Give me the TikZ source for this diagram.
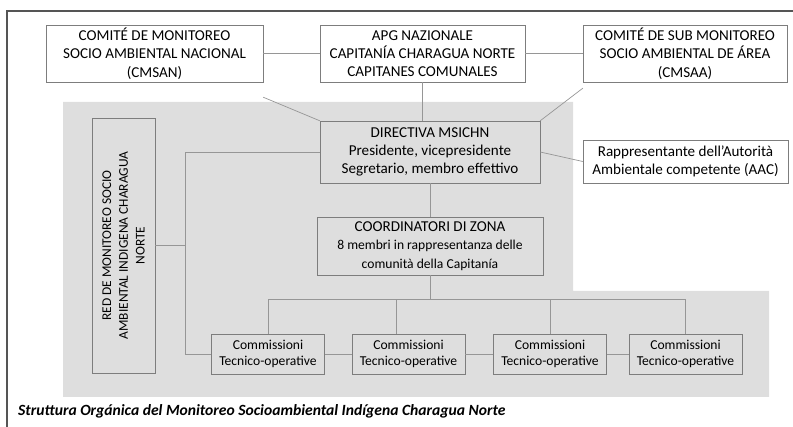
\documentclass[tikz,border=0pt]{standalone}
\usepackage{fontspec}
\setmainfont{Carlito}
\usetikzlibrary{positioning,calc}
\definecolor{PanelGray}{RGB}{222,222,222}
\definecolor{EdgeGray}{RGB}{125,125,125}
\definecolor{LinkGray}{RGB}{150,150,150}
\definecolor{FrameGray}{RGB}{85,85,85}
\newcommand{\smalltxt}{\fontsize{13.6}{16.7}\selectfont}

\begin{document}
\begin{tikzpicture}[x=1pt,y=-1pt,
  box/.style={draw=EdgeGray,fill=white,align=center,inner sep=2pt,
              font=\fontsize{15.1}{18.3}\selectfont},
  inbox/.style={box,fill=PanelGray},
  combox/.style={inbox,minimum width=113pt,minimum height=40pt,
                 font=\fontsize{13.6}{15.7}\selectfont},
  link/.style={draw=LinkGray,line width=0.7pt}]
  \useasboundingbox (0,0) rectangle (793,427);
  \fill[PanelGray] (63,102) -| (573,291) -| (769,397) -| cycle;
  \draw[FrameGray,line width=1.2pt] (7,427) |- (793,11);
  \node[box,minimum width=217pt,minimum height=57pt] (cmsan) at (154.5,53.5)
    {COMITÉ DE MONITOREO\\SOCIO AMBIENTAL NACIONAL\\(CMSAN)};
  \node[box,minimum width=205pt,minimum height=57pt] (apg) at (422.5,53.5)
    {APG NAZIONALE\\CAPITANÍA CHARAGUA NORTE\\CAPITANES COMUNALES};
  \node[box,minimum width=204pt,minimum height=57pt] (cmsaa) at (685,53.5)
    {COMITÉ DE SUB MONITOREO\\SOCIO AMBIENTAL DE ÁREA\\(CMSAA)};
  \node[inbox,minimum width=220pt,minimum height=62pt] (directiva) at (430,152)
    {DIRECTIVA MSICHN\\Presidente, vicepresidente\\Segretario, membro effettivo};
  \node[box,minimum width=205pt,minimum height=43pt] (aac) at (685.5,161.5)
    {Rappresentante dell’Autorità\\Ambientale competente (AAC)};
  \node[inbox,minimum width=226pt,minimum height=58pt] (coord) at (430,246)
    {COORDINATORI DI ZONA\\{\smalltxt 8 membri in rappresentanza delle}\\{\smalltxt comunità della Capitanía}};
  \node[inbox,rotate=90,minimum width=255pt,minimum height=63pt,
        font=\fontsize{13.4}{16.7}\selectfont] (red) at (123.5,245.5)
    {RED DE MONITOREO SOCIO\\AMBIENTAL INDIGENA CHARAGUA\\NORTE};
  \node[combox] (com1) at (268,354) {Commissioni\\Tecnico-operative};
  \node[combox] (com2) at (408.5,354) {Commissioni\\Tecnico-operative};
  \node[combox] (com3) at (550,354) {Commissioni\\Tecnico-operative};
  \node[combox] (com4) at (685.5,354) {Commissioni\\Tecnico-operative};
  \node[anchor=west,inner sep=0pt,font=\fontsize{15.6}{18}\selectfont\bfseries\itshape]
    (caption) at (18,411) {Struttura Orgánica del Monitoreo Socioambiental Indígena Charagua Norte};
  \coordinate (cmsanfoot) at ([yshift=-15pt]cmsan.south east);
  \coordinate (cmsaafoot) at ([yshift=-6pt]cmsaa.south west);
  \coordinate (spine) at (185,152);
  \coordinate (bus) at (430,299);
  \draw[link] (cmsan) -- (apg);
  \draw[link] (apg) -- (cmsaa);
  \draw[link] (cmsanfoot) -- (directiva.north west);
  \draw[link] (cmsaafoot) -- (directiva.north east);
  \draw[link] (apg.south) -- (apg.south |- directiva.north);
  \draw[link] (directiva.east) -- (aac.west);
  \draw[link] (directiva) -- (coord);
  \draw[link] (directiva.west) -- (spine) |- (com1.west);
  \draw[link] (red.south) -- (red.south -| spine);
  \draw[link] (coord.south) -- (bus);
  \draw[link] (com1.north) -- (com1.north |- bus) -- (com4.north |- bus) -- (com4.north);
  \draw[link] ([xshift=-12.5pt]com2.north) -- ([xshift=-12.5pt]com2.north |- bus);
  \draw[link] (com3.north) -- (com3.north |- bus);
  \foreach \a/\b in {com1/com2,com2/com3,com3/com4}
    \draw[link] (\a) -- (\b);
\end{tikzpicture}
\end{document}
